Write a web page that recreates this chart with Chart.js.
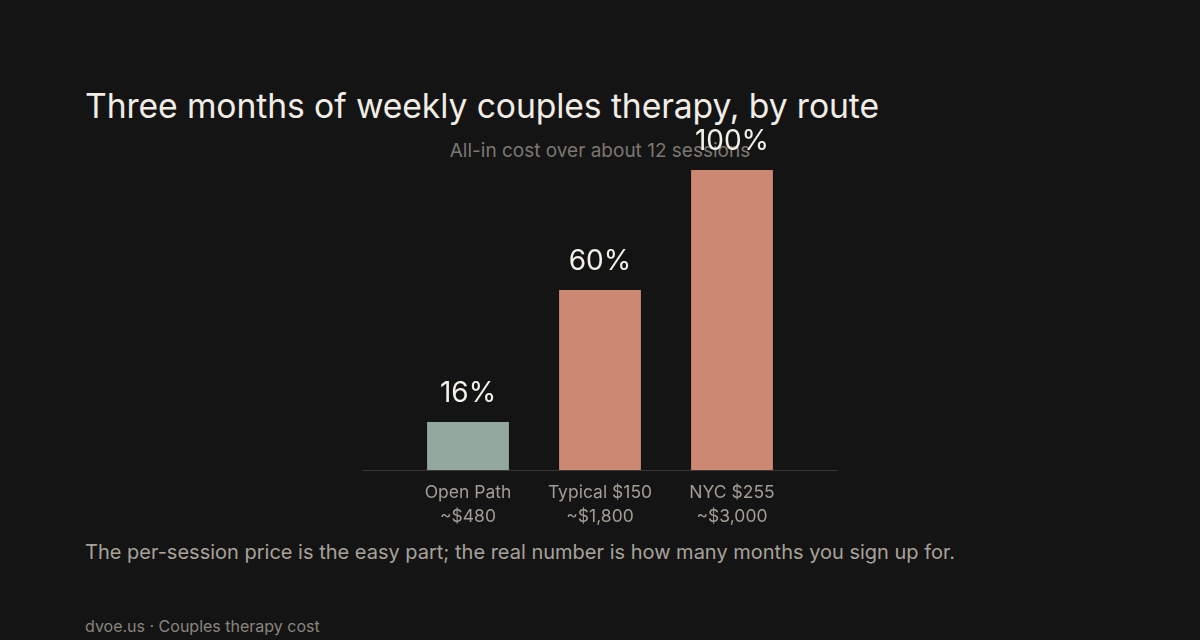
<!DOCTYPE html>
<html>
<head>
<meta charset="utf-8">
<script src="https://cdn.jsdelivr.net/npm/chart.js@4/dist/chart.umd.min.js"></script>
<style>
    html, body { margin: 0; padding: 0; background: #141414; }
    body { width: 1200px; height: 640px; position: relative; overflow: hidden; font-family: Inter, "Noto Sans", sans-serif; }
    .txt { position: absolute; white-space: nowrap; }
    #title { left: 85px; top: 85px; font-size: 33.7px; color: #f1ede6; letter-spacing: -0.1px; }
    #subtitle { left: 0; width: 1200px; top: 139px; text-align: center; font-size: 19px; color: #7c7771; }
    #caption { left: 85px; top: 540px; font-size: 20px; color: #a8a29a; }
    #footer { left: 85px; top: 616px; font-size: 16px; color: #8a857f; }
    #chartWrap { position: absolute; left: 0; top: 0; width: 1200px; height: 640px; }
</style>
</head>
<body>
<div class="txt" id="title">Three months of weekly couples therapy, by route</div>
<div class="txt" id="subtitle">All-in cost over about 12 sessions</div>
<div class="txt" id="caption">The per-session price is the easy part; the real number is how many months you sign up for.</div>
<div class="txt" id="footer">dvoe.us · Couples therapy cost</div>
<div id="chartWrap"><canvas id="costChart" width="1200" height="640"></canvas></div>

<script>
const routes = ["Open Path", "Typical $150", "NYC $255"];
const totals = ["~$480", "~$1,800", "~$3,000"];
const shareOfNyc = [16, 60, 100];
const barColors = ["#93a89e", "#cc8872", "#cc8872"];

// value labels above each bar
const valueLabels = {
    id: "valueLabels",
    afterDatasetsDraw(chart) {
        const ctx = chart.ctx;
        const meta = chart.getDatasetMeta(0);
        ctx.save();
        ctx.fillStyle = "#f4f0ea";
        ctx.font = "28px Inter, 'Noto Sans', sans-serif";
        ctx.textAlign = "center";
        ctx.textBaseline = "middle";
        meta.data.forEach((bar, i) => {
            ctx.fillText(shareOfNyc[i] + "%", bar.x, bar.y - 28);
        });
        ctx.restore();
    }
};

// baseline that runs a bit past the outer bars
const baseline = {
    id: "baseline",
    beforeDatasetsDraw(chart) {
        const {ctx, chartArea} = chart;
        const y = chart.scales.y.getPixelForValue(0);
        ctx.save();
        ctx.strokeStyle = "#3c3a38";
        ctx.lineWidth = 1;
        ctx.beginPath();
        ctx.moveTo(chartArea.left - 40, y + 0.5);
        ctx.lineTo(chartArea.right + 40, y + 0.5);
        ctx.stroke();
        ctx.restore();
    }
};

const ctx = document.getElementById("costChart").getContext("2d");

new Chart(ctx, {
    type: "bar",
    data: {
        labels: routes.map((r, i) => [r, totals[i]]),
        datasets: [{
            data: shareOfNyc,
            backgroundColor: barColors,
            borderWidth: 0,
            barPercentage: 1,
            categoryPercentage: 0.62
        }]
    },
    options: {
        responsive: false,
        animation: false,
        layout: { padding: { left: 402, right: 402, top: 170, bottom: 108 } },
        plugins: {
            legend: { display: false },
            tooltip: { enabled: false }
        },
        scales: {
            x: {
                grid: { display: false },
                border: { display: false },
                ticks: {
                    color: "#a39d95",
                    font: { family: "Inter, 'Noto Sans', sans-serif", size: 17.5, lineHeight: 1.37 },
                    padding: 3,
                    maxRotation: 0
                }
            },
            y: {
                display: false,
                min: 0,
                max: 100
            }
        }
    },
    plugins: [baseline, valueLabels]
});
</script>
</body>
</html>
